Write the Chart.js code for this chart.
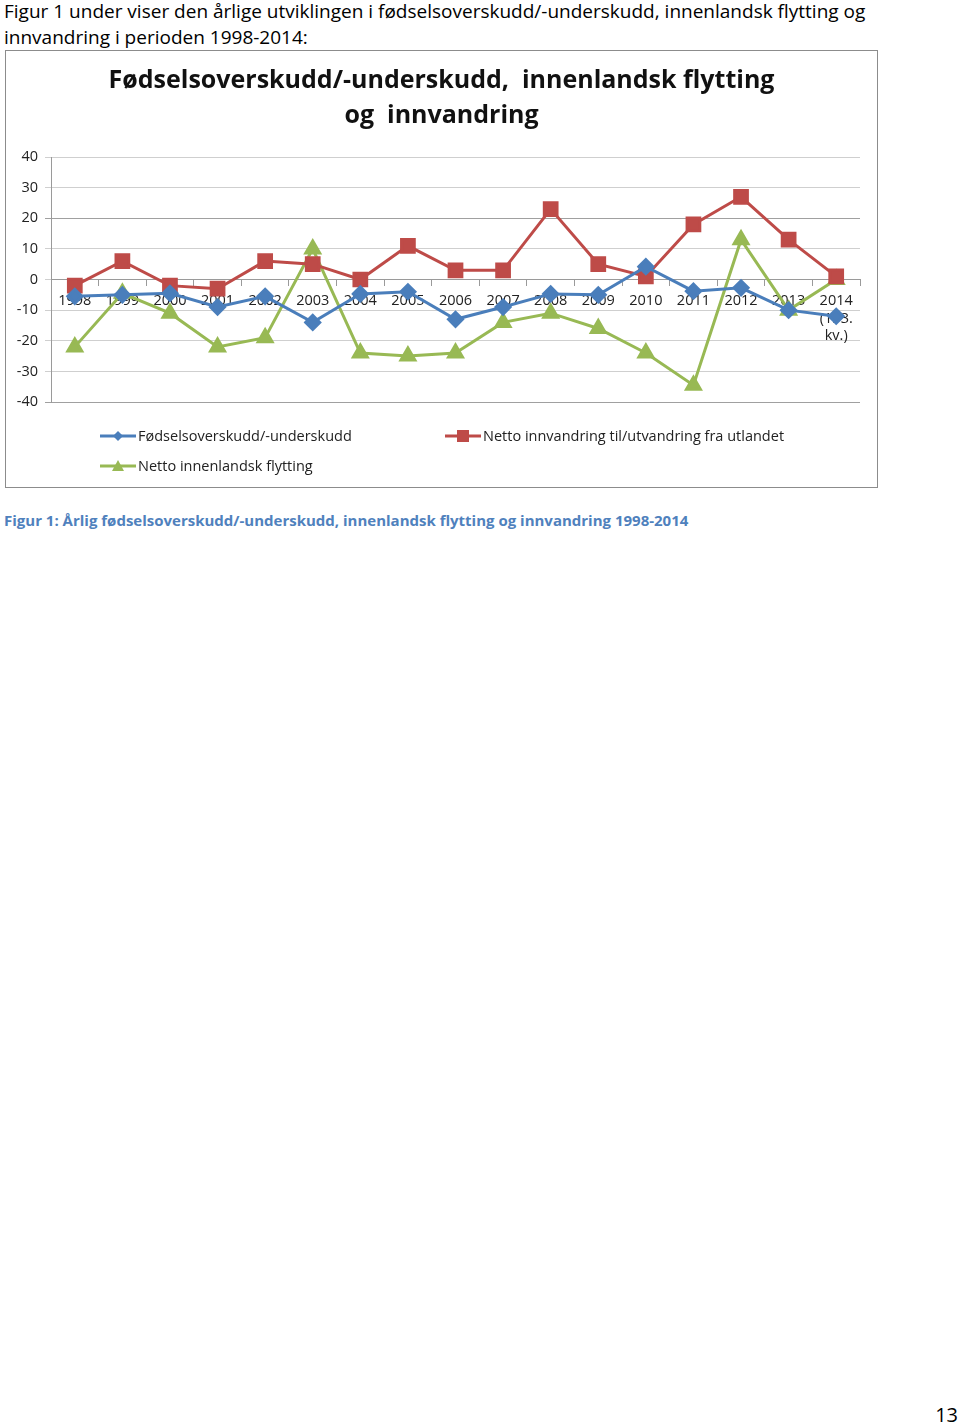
<!DOCTYPE html>
<html>
<head>
<meta charset="utf-8">
<script src="https://cdn.jsdelivr.net/npm/chart.js@4.4.0/dist/chart.umd.min.js"></script>
<style>
  body { margin: 0; background: #fff; font-family: "Open Sans", sans-serif; color: #000; }
  .page { position: relative; width: 960px; height: 1424px; overflow: hidden; }
  .intro { position: absolute; left: 4px; top: -2px; font-size: 19px; line-height: 26px; }
  .box { position: absolute; left: 5px; top: 50px; width: 871px; height: 436px; border: 1px solid #8c8c8c; }
  .box canvas { position: absolute; left: 0; top: 0; }
  .legend { position: absolute; font-size: 14.5px; color: #222; display: flex; align-items: center; }
  .legend svg { margin-right: 2px; }
  .caption { position: absolute; left: 4px; top: 510px; font-size: 15px; font-weight: bold; color: #4f81bd; }
  .pagenum { position: absolute; right: 2px; top: 1401px; font-size: 20px; }
</style>
</head>
<body>
<div class="page">
  <div class="intro">Figur 1 under viser den årlige utviklingen i fødselsoverskudd/-underskudd, innenlandsk flytting og<br>innvandring i perioden 1998-2014:</div>
  <div class="box">
    <canvas id="chart" width="871" height="436"></canvas>
    <div class="legend" style="left:94px; top:375px;">
      <svg width="36" height="14"><line x1="0" y1="7" x2="36" y2="7" stroke="#4a7ebb" stroke-width="3"/><polygon points="18,2 23,7 18,12 13,7" fill="#4a7ebb"/></svg>Fødselsoverskudd/-underskudd
    </div>
    <div class="legend" style="left:439px; top:375px;">
      <svg width="36" height="14"><line x1="0" y1="7" x2="36" y2="7" stroke="#be4b48" stroke-width="3"/><rect x="12" y="1" width="12" height="12" fill="#be4b48"/></svg>Netto innvandring til/utvandring fra utlandet
    </div>
    <div class="legend" style="left:94px; top:405px;">
      <svg width="36" height="14"><line x1="0" y1="7" x2="36" y2="7" stroke="#98b954" stroke-width="3"/><polygon points="18,1 24,12 12,12" fill="#98b954"/></svg>Netto innenlandsk flytting
    </div>
  </div>
  <div class="caption">Figur 1: Årlig fødselsoverskudd/-underskudd, innenlandsk flytting og innvandring 1998-2014</div>
  <div class="pagenum">13</div>
</div>
<script>
const years = ['1998', '1999', '2000', '2001', '2002', '2003', '2004', '2005', '2006',
  '2007', '2008', '2009', '2010', '2011', '2012', '2013', ['2014', '(1.-3.', 'kv.)']];
const fodselsoverskudd = [-5.5, -5, -4.5, -9, -5.5, -14, -4.7, -4, -13, -9, -4.7, -5, 4.2, -3.8, -2.7, -10, -12];
const nettoInnvandring = [-2, 6, -2, -3, 6, 5, 0, 11, 3, 3, 23, 5, 1, 18, 27, 13, 1];
const nettoInnenlandsk = [-22, -4.5, -11, -22, -19, 10, -24, -25, -24, -14, -11, -16, -24, -34.5, 13, -10, 0];
const yTicks = { min: -40, max: 40, step: 10 };

const font = "'Open Sans', sans-serif";

new Chart(document.getElementById('chart'), {
  type: 'line',
  data: {
    labels: years,
    datasets: [
      {
        label: 'Fødselsoverskudd/-underskudd',
        data: fodselsoverskudd,
        borderColor: '#4a7ebb',
        backgroundColor: '#4a7ebb',
        borderWidth: 3,
        pointStyle: 'rectRot',
        pointRadius: 7,
        tension: 0,
      },
      {
        label: 'Netto innvandring til/utvandring fra utlandet',
        data: nettoInnvandring,
        borderColor: '#be4b48',
        backgroundColor: '#be4b48',
        borderWidth: 3,
        pointStyle: 'rect',
        pointRadius: 9,
        tension: 0,
      },
      {
        label: 'Netto innenlandsk flytting',
        data: nettoInnenlandsk,
        borderColor: '#98b954',
        backgroundColor: '#98b954',
        borderWidth: 3,
        pointStyle: 'triangle',
        pointRadius: 8,
        tension: 0,
      },
    ],
  },
  options: {
    responsive: false,
    animation: false,
    layout: { padding: { left: 0, right: 0, bottom: 85 } },
    plugins: {
      legend: { display: false },
      tooltip: { enabled: false },
      title: {
        display: true,
        text: ['Fødselsoverskudd/-underskudd,  innenlandsk flytting', 'og  innvandring'],
        color: '#111',
        font: { family: font, size: 25, weight: 'bold', lineHeight: 1.4 },
        padding: { top: 12, bottom: 24 },
      },
    },
    scales: {
      x: {
        type: 'category',
        position: { y: 0 },
        offset: true,
        grid: { drawOnChartArea: false, offset: true, tickLength: 6, color: '#9a9a9a' },
        border: { color: '#9a9a9a' },
        ticks: { color: '#222', font: { family: font, size: 14.5 }, padding: 7, maxRotation: 0, autoSkip: false },
      },
      y: {
        min: yTicks.min,
        max: yTicks.max,
        afterFit: (scale) => { scale.width = 45; },
        grid: {
          tickLength: 6,
          color: (ctx) => (ctx.tick && (ctx.tick.value === 20 || ctx.tick.value === -40) ? '#a0a0a0' : '#cfcfcf'),
        },
        border: { color: '#9a9a9a' },
        ticks: { stepSize: yTicks.step, color: '#222', font: { family: font, size: 14.5 }, padding: 7 },
      },
      // empty right gutter so the plot stops short of the box edge
      gutter: {
        position: 'right',
        afterFit: (scale) => { scale.width = 17; },
        grid: { display: false },
        border: { display: false },
        ticks: { display: false },
      },
    },
  },
});
</script>
</body>
</html>
